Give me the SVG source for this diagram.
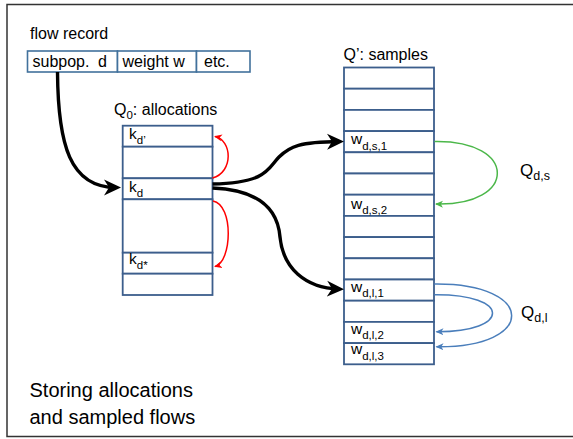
<svg xmlns="http://www.w3.org/2000/svg" width="573" height="439" viewBox="0 0 573 439">
<style>
text { font-family: "Liberation Sans", Arial, sans-serif; fill: #000; }
.lbl { font-size: 16px; }
.cell { font-size: 15.5px; }
.sub { font-size: 11.5px; }
.title { font-size: 20px; }
.fr { fill: #fff; stroke: #41719C; stroke-width: 1.6; }
.q { fill: #fff; stroke: #3C5E8C; stroke-width: 1.8; }
.blk { fill: none; stroke: #000; stroke-width: 3.4; }
.red { fill: none; stroke: #FF0000; stroke-width: 1.5; }
.grn { fill: none; stroke: #4BB749; stroke-width: 1.5; }
.blu { fill: none; stroke: #4A7EBB; stroke-width: 1.5; }
</style>
<defs>
<marker id="hb" viewBox="0 0 17 17" refX="12" refY="8.5" markerWidth="17" markerHeight="17" markerUnits="userSpaceOnUse" orient="auto">
<path d="M0,0.5 L17,8.5 L0,16.5 L5,8.5 z" fill="#000"/>
</marker>
<marker id="hr" viewBox="0 0 8 8" refX="7" refY="4" markerWidth="8" markerHeight="8" markerUnits="userSpaceOnUse" orient="auto">
<path d="M0,0.5 L8,4 L0,7.5 L2.2,4 z" fill="#FF0000"/>
</marker>
<marker id="hg" viewBox="0 0 8 8" refX="7" refY="4" markerWidth="8" markerHeight="8" markerUnits="userSpaceOnUse" orient="auto">
<path d="M0,0.5 L8,4 L0,7.5 L2.2,4 z" fill="#4BB749"/>
</marker>
<marker id="hu" viewBox="0 0 8 8" refX="7" refY="4" markerWidth="8" markerHeight="8" markerUnits="userSpaceOnUse" orient="auto">
<path d="M0,0.5 L8,4 L0,7.5 L2.2,4 z" fill="#4A7EBB"/>
</marker>
</defs>
<rect x="0" y="0" width="573" height="439" fill="#fff"/>
<rect id="frame" x="7" y="4.5" width="620" height="432" fill="none" stroke="#333" stroke-width="1.5"/>

<g id="flow-record">
<text class="lbl" x="30" y="38.5">flow record</text>
<rect class="fr" x="27.5" y="51" width="90" height="21"/>
<rect class="fr" x="117.5" y="51" width="79" height="21"/>
<rect class="fr" x="196.5" y="51" width="53.5" height="21"/>
<text class="lbl" x="32.5" y="66.5">subpop.<tspan x="98">d</tspan></text>
<text class="lbl" x="122.5" y="66.5">weight w</text>
<text class="lbl" x="204" y="66.5">etc.</text>
</g>

<g id="q0">
<text class="lbl" x="114" y="115">Q<tspan class="sub" dy="4">0</tspan><tspan dy="-4">: allocations</tspan></text>
<rect class="q" x="122.7" y="125.7" width="89.8" height="21"/>
<rect class="q" x="122.7" y="146.7" width="89.8" height="31.6"/>
<rect class="q" x="122.7" y="178.3" width="89.8" height="21"/>
<rect class="q" x="122.7" y="199.3" width="89.8" height="53.4"/>
<rect class="q" x="122.7" y="252.7" width="89.8" height="21"/>
<rect class="q" x="122.7" y="273.7" width="89.8" height="21.3"/>
<text class="cell" x="129" y="139">k<tspan class="sub" dy="5">d’</tspan></text>
<text class="cell" x="129" y="192">k<tspan class="sub" dy="5">d</tspan></text>
<text class="cell" x="129" y="264">k<tspan class="sub" dy="5">d*</tspan></text>
</g>

<g id="q-prime">
<text class="lbl" x="343.5" y="59.5">Q’: samples</text>
<rect class="q" x="344" y="67.5" width="90" height="21.2"/>
<rect class="q" x="344" y="88.7" width="90" height="21.2"/>
<rect class="q" x="344" y="109.9" width="90" height="21.2"/>
<rect class="q" x="344" y="131.1" width="90" height="21.2"/>
<rect class="q" x="344" y="152.3" width="90" height="21.2"/>
<rect class="q" x="344" y="173.5" width="90" height="21.2"/>
<rect class="q" x="344" y="194.7" width="90" height="21.2"/>
<rect class="q" x="344" y="215.9" width="90" height="21.2"/>
<rect class="q" x="344" y="237.1" width="90" height="21.2"/>
<rect class="q" x="344" y="258.3" width="90" height="21.2"/>
<rect class="q" x="344" y="279.5" width="90" height="21.2"/>
<rect class="q" x="344" y="300.7" width="90" height="21.2"/>
<rect class="q" x="344" y="321.9" width="90" height="21.2"/>
<rect class="q" x="344" y="343.1" width="90" height="21.2"/>
<text class="cell" x="351" y="144">w<tspan class="sub" dy="5.5">d,s,1</tspan></text>
<text class="cell" x="351" y="208.5">w<tspan class="sub" dy="5.5">d,s,2</tspan></text>
<text class="cell" x="351" y="291.5">w<tspan class="sub" dy="5.5">d,l,1</tspan></text>
<text class="cell" x="351" y="333.5">w<tspan class="sub" dy="5.5">d,l,2</tspan></text>
<text class="cell" x="351" y="354">w<tspan class="sub" dy="5.5">d,l,3</tspan></text>
</g>

<g id="qds-label">
<text font-size="17" x="520" y="175.5">Q<tspan font-size="12.5" dy="4">d,s</tspan></text>
</g>
<g id="qdl-label">
<text font-size="17" x="521" y="317.5">Q<tspan font-size="12.5" dy="4">d,l</tspan></text>
</g>

<g id="connectors">
<path class="blk" d="M57.5,72 C58,145 70,187.5 116,187.5" marker-end="url(#hb)"/>
<path class="blk" d="M212.5,184 C268,183 268,168 279,157 C290,146 300,142 339,141.5" marker-end="url(#hb)"/>
<path class="blk" d="M212.5,188 C262,190 278,212 280,237 C283,268 305,288 339,289" marker-end="url(#hb)"/>
<path class="red" d="M212.5,178 C234,172 232,140 215,136.5" marker-end="url(#hr)"/>
<path class="red" d="M213,201 C234,205 232,262 215,266.5" marker-end="url(#hr)"/>
<path class="grn" d="M434.5,141.5 C518,140 518,206 436,204" marker-end="url(#hg)"/>
<path class="blu" d="M434.5,284 C537,283 537,348 436.5,346.7" marker-end="url(#hu)"/>
<path class="blu" d="M434.5,294.7 C511.5,294 511.5,332 436.5,331.7" marker-end="url(#hu)"/>
</g>

<g id="caption">
<text class="title" x="29.5" y="397">Storing allocations</text>
<text class="title" x="29.5" y="423.5">and sampled flows</text>
</g>
</svg>
